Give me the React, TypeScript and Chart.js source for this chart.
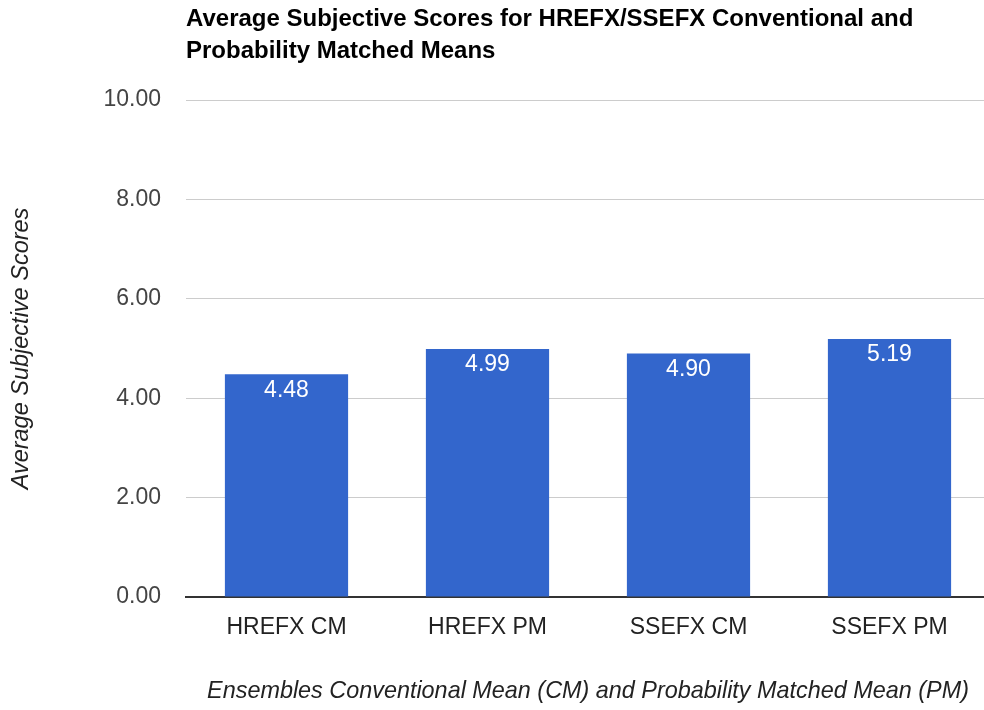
import React, { useEffect, useRef } from "react";
import { Chart, registerables } from "chart.js";

Chart.register(...registerables);

const categories = ["HREFX CM", "HREFX PM", "SSEFX CM", "SSEFX PM"];
const scores = [4.48, 4.99, 4.9, 5.19];
const titleLines = [
  "Average Subjective Scores for HREFX/SSEFX Conventional and",
  "Probability Matched Means",
];
const yTitle = "Average Subjective Scores";
const xTitle = "Ensembles Conventional Mean (CM) and Probability Matched Mean (PM)";
const yMin = 0;
const yMax = 10;
const yStep = 2;

const FONT = "'Liberation Sans', Arial, sans-serif";

const titlePlugin = {
  id: "leftTitle",
  afterDraw(chart: any) {
    const ctx = chart.ctx;
    ctx.save();
    ctx.font = `bold 24px ${FONT}`;
    ctx.fillStyle = "#000";
    ctx.textAlign = "left";
    ctx.textBaseline = "middle";
    titleLines.forEach((line, i) => {
      ctx.fillText(line, chart.chartArea.left, 19 + i * 32);
    });
    ctx.restore();
  },
};

const valueLabelPlugin = {
  id: "valueLabels",
  afterDatasetsDraw(chart: any) {
    const ctx = chart.ctx;
    const meta = chart.getDatasetMeta(0);
    ctx.save();
    ctx.font = `23px ${FONT}`;
    ctx.fillStyle = "#fff";
    ctx.textAlign = "center";
    ctx.textBaseline = "middle";
    meta.data.forEach((bar: any, i: number) => {
      const v = chart.data.datasets[0].data[i] as number;
      ctx.fillText(v.toFixed(2), bar.x, bar.y + 16);
    });
    ctx.restore();
  },
};

export default function App() {
  const ref = useRef<HTMLCanvasElement>(null);
  useEffect(() => {
    if (!ref.current) return;
    const chart = new Chart(ref.current, {
      type: "bar",
      data: {
        labels: categories,
        datasets: [
          {
            data: scores,
            backgroundColor: "#3366CC",
            borderWidth: 0,
            barPercentage: 0.613,
            categoryPercentage: 1,
          },
        ],
      },
      options: {
        animation: false,
        responsive: true,
        maintainAspectRatio: false,
        layout: { padding: { top: 100, left: 0, right: 0, bottom: 0 } },
        plugins: {
          legend: { display: false },
          tooltip: { enabled: false },
          title: { display: false },
        },
        scales: {
          x: {
            grid: { display: false },
            border: { display: true, color: "#333", width: 2 },
            ticks: {
              font: { family: FONT, size: 23 },
              color: "#222",
              padding: 9,
            },
            title: {
              display: true,
              text: xTitle,
              font: { family: FONT, size: 23.4, style: "italic" },
              color: "#222",
              padding: { top: 0, bottom: 4 },
            },
            afterFit: (s: any) => {
              s.height = 113;
            },
          },
          y: {
            min: yMin,
            max: yMax,
            ticks: {
              stepSize: yStep,
              font: { family: FONT, size: 23 },
              color: "#444",
              padding: 25,
              callback: (v: any) => Number(v).toFixed(2),
            },
            grid: {
              drawTicks: false,
              color: (c: any) => (c.tick && c.tick.value === 0 ? "#333" : "#ccc"),
              lineWidth: 1,
            },
            border: { display: false },
            title: {
              display: true,
              text: yTitle,
              font: { family: FONT, size: 23.5, style: "italic" },
              color: "#222",
              padding: { top: 7, bottom: 0 },
            },
            afterFit: (s: any) => {
              s.width = 186;
            },
          },
        },
      },
      plugins: [titlePlugin, valueLabelPlugin],
    });
    return () => chart.destroy();
  }, []);

  return (
    <div
      style={{
        position: "fixed",
        left: 0,
        top: 0,
        width: 984,
        height: 710,
        overflow: "hidden",
        background: "#fff",
      }}
    >
      <div style={{ position: "relative", width: 990, height: 710 }}>
        <canvas ref={ref} />
      </div>
    </div>
  );
}
